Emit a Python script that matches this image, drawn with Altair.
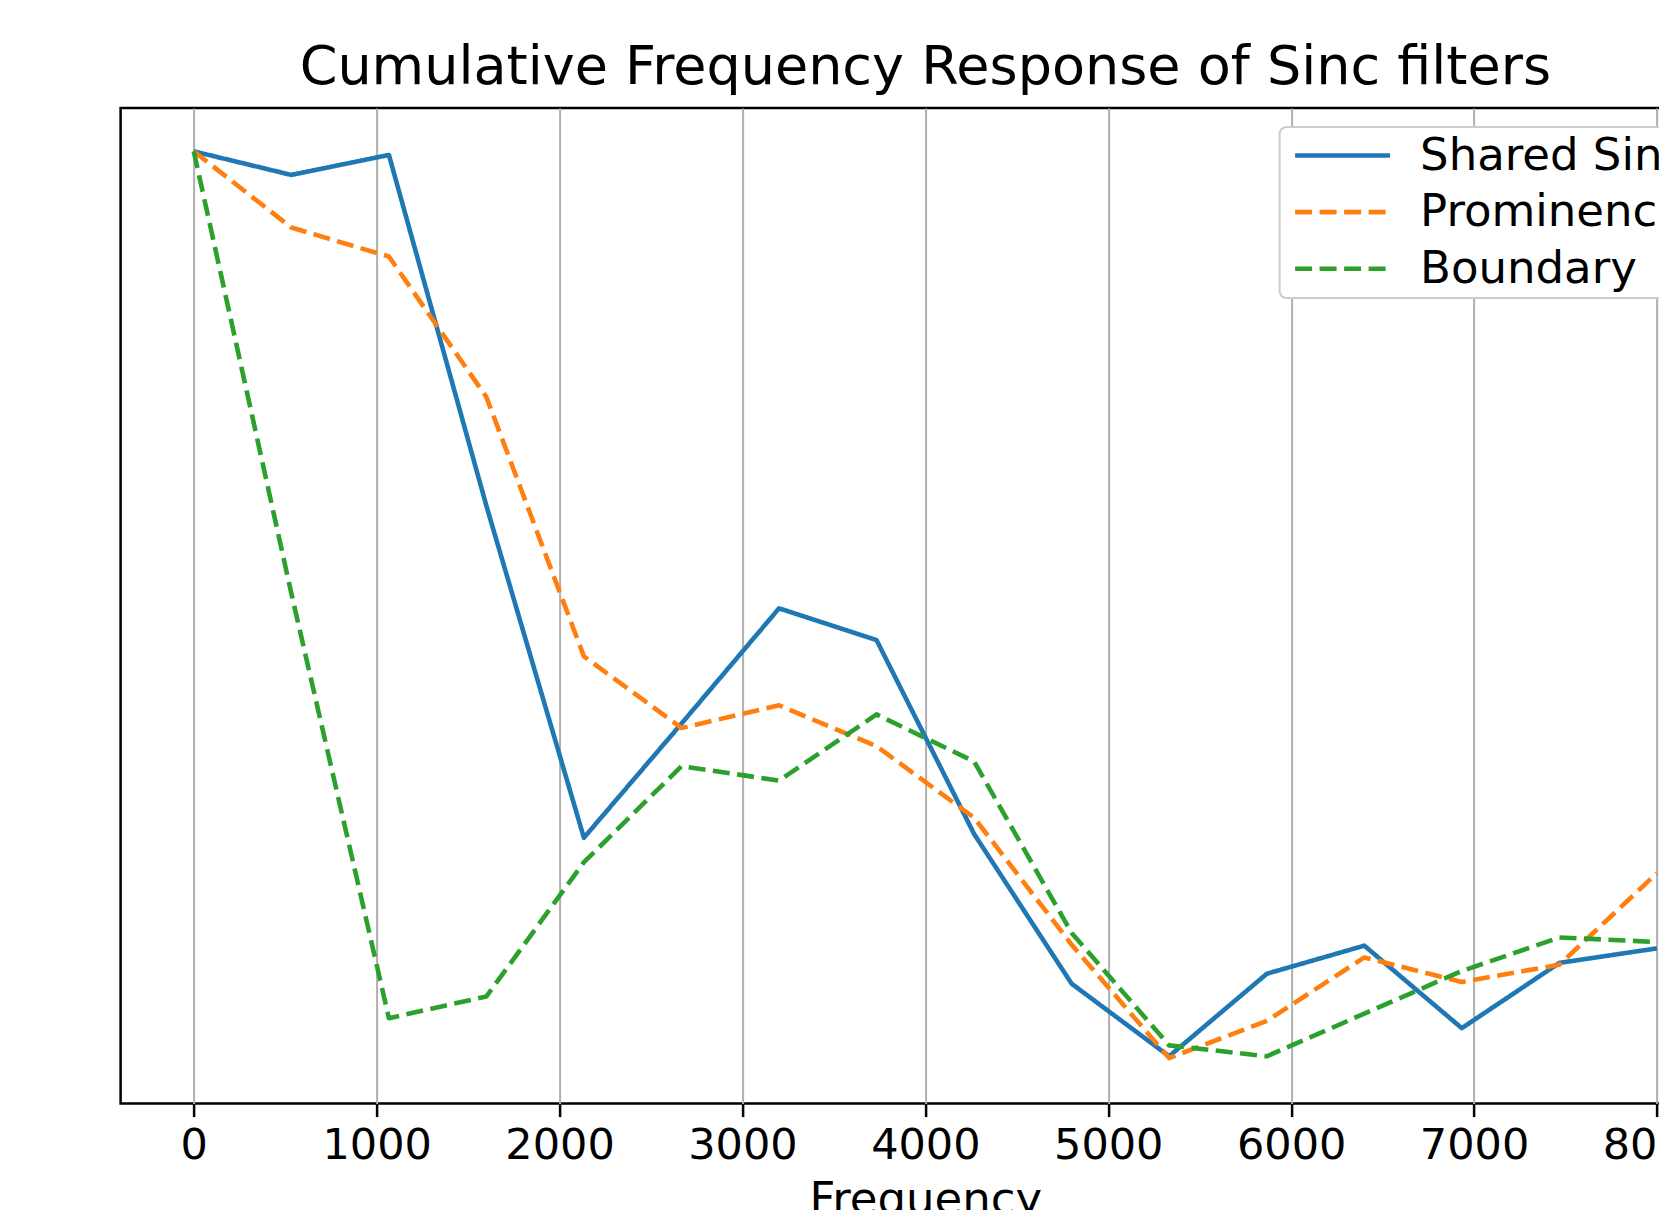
import altair as alt
import pandas as pd

# ---- data ----
freq = [0, 533, 1067, 1600, 2133, 2667, 3200, 3733, 4267, 4800, 5333, 5867, 6400, 6933, 7467, 8000]
shared_sinc = [1.000, 0.974, 0.996, 0.609, 0.243, 0.369, 0.496, 0.461, 0.247, 0.082,
               0.002, 0.093, 0.124, 0.033, 0.105, 0.121]
prominence = [1.000, 0.916, 0.884, 0.729, 0.443, 0.364, 0.389, 0.344, 0.265, 0.125,
              0.000, 0.041, 0.111, 0.084, 0.103, 0.204]
boundary = [1.000, 0.513, 0.044, 0.068, 0.216, 0.322, 0.306, 0.379, 0.327, 0.138,
            0.014, 0.002, 0.049, 0.096, 0.133, 0.128]
series_names = ["Shared Sinc", "Prominence", "Boundary"]
series_colors = ["#1f77b4", "#ff7f0e", "#2ca02c"]
x_ticks = [0, 1000, 2000, 3000, 4000, 5000, 6000, 7000, 8000]

rows = []
for name, vals in zip(series_names, [shared_sinc, prominence, boundary]):
    for f, v in zip(freq, vals):
        rows.append({"Frequency": f, "Response": v, "Filter": name})
df = pd.DataFrame(rows)

FONT = "DejaVu Sans"

legend = alt.Legend(
    title=None,
    orient="none",
    legendX=1159,
    legendY=19,
    symbolType="stroke",
    symbolSize=9025,
    symbolStrokeWidth=4.6,
    symbolOffset=8.5,
    clipHeight=48,
    labelFont=FONT,
    labelFontSize=45,
    labelColor="black",
    labelLimit=0,
    labelOffset=27.5,
    padding=4.5,
    rowPadding=8.6,
    fillColor="white",
    strokeColor="#cccccc",
    cornerRadius=7,
)

chart = (
    alt.Chart(df)
    .mark_line(strokeWidth=4.6, strokeJoin="round")
    .encode(
        x=alt.X(
            "Frequency:Q",
            scale=alt.Scale(domain=[-400, 8400], nice=False, zero=False),
            axis=alt.Axis(
                values=x_ticks,
                format="d",
                labelFont=FONT,
                labelFontSize=43,
                labelColor="black",
                labelBaseline="alphabetic",
                labelPadding=42,
                labelFlush=False,
                labelOverlap=False,
                tickSize=13,
                tickWidth=2.5,
                tickColor="black",
                domain=False,
                grid=True,
                gridColor="#b0b0b0",
                gridWidth=2,
                title="Frequency",
                titleFont=FONT,
                titleFontSize=45,
                titleFontWeight="normal",
                titleColor="black",
                titleBaseline="alphabetic",
                titleY=110,
            ),
        ),
        y=alt.Y(
            "Response:Q",
            scale=alt.Scale(domain=[-0.0502, 1.0478], nice=False, zero=False),
            axis=None,
        ),
        color=alt.Color(
            "Filter:N",
            scale=alt.Scale(domain=series_names, range=series_colors),
            legend=legend,
        ),
        strokeDash=alt.StrokeDash(
            "Filter:N",
            scale=alt.Scale(domain=series_names, range=[[1, 0], [17, 7.5], [17, 7.5]]),
            legend=legend,
        ),
    )
    .properties(
        width=1609.5,
        height=995.6,
        title=alt.TitleParams(
            text="Cumulative Frequency Response of Sinc filters",
            font=FONT,
            fontSize=54,
            fontWeight="normal",
            color="black",
            baseline="alphabetic",
            offset=23,
            dy=53,
            frame="group",
            anchor="middle",
        ),
        padding={"left": 120.6, "top": 108, "right": -71.1, "bottom": 106.4},
        autosize=alt.AutoSizeParams(type="none"),
        background="white",
    )
    .configure_view(stroke="black", strokeWidth=2.5)
    .configure_legend(strokeWidth=2)
)

chart.save("out.html", embed_options={"renderer": "svg", "actions": False})
